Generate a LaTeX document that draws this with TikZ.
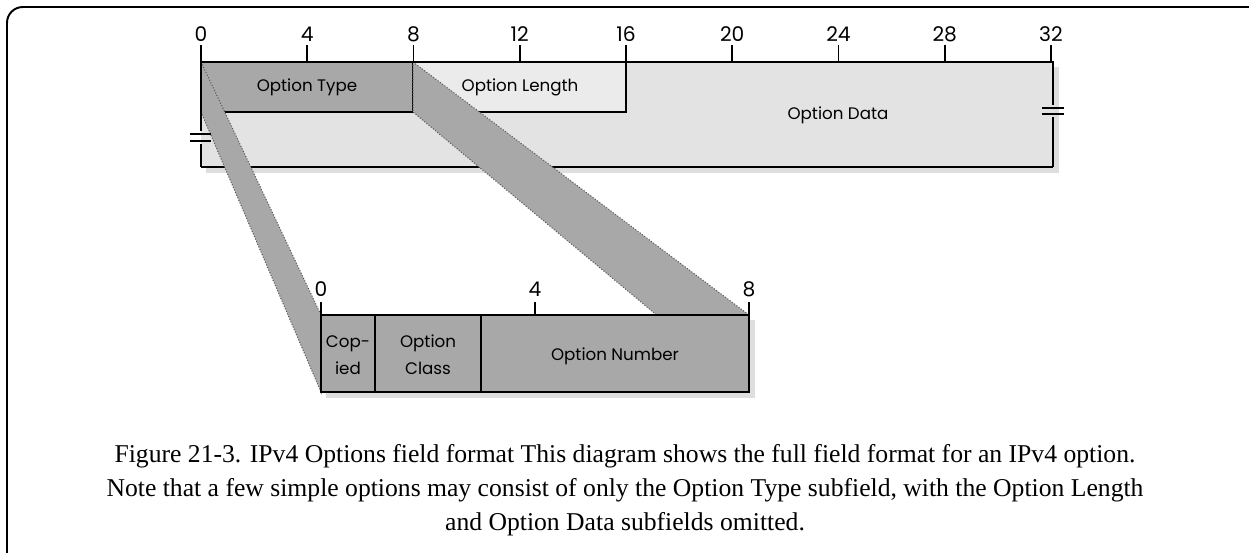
\documentclass[tikz,border=0pt]{standalone}
\usepackage{fontspec}
\setmainfont{Liberation Serif}
\newfontfamily\fieldfont{Poppins}
\usepackage{tikz}

\definecolor{bandgray}{gray}{0.66}
\definecolor{datagray}{gray}{0.89}
\definecolor{lengray}{gray}{0.92}
\definecolor{shadowgray}{gray}{0.87}

\begin{document}
\begin{tikzpicture}[x=0.02cm, y=-0.02cm,
    fieldtext/.style={font=\fieldfont\fontsize{9.5}{15.5}\selectfont, align=center, inner sep=0pt},
    bitno/.style={font=\fieldfont\fontsize{11.5}{13}\selectfont, inner sep=0pt},
    edge/.style={line width=1.1pt},
    thinedge/.style={line width=0.8pt},
    band/.style={fill=bandgray, draw=black!65, densely dotted, line width=0.6pt}]
  \useasboundingbox (0,0) rectangle (1249,552);
  % frame round the figure
  \draw[line width=1.1pt, rounded corners=9] (7,560) -- (7,7) -- (1252,7);
  % shadows
  \fill[shadowgray] (206,67) rectangle (1059,173);
  \fill[shadowgray] (326,320) rectangle (755,398);
  % the 32-bit options word
  \fill[datagray] (201,62) rectangle (1053,167);
  \fill[lengray] (413,62) rectangle (626,112);
  \fill[bandgray] (201,62) rectangle (413,112);
  \draw[thinedge] (413,62) -- (413,112) -- (201,112);
  \draw[thinedge] (626,62) -- (626,112) -- (413,112);
  \draw[edge] (201,167) -- (1053,167);
  % Option Type projected onto the byte below
  \draw[band] (201,62) -- (321,315) -- (321,392) -- (201,112) -- cycle;
  \draw[band] (413,62) -- (749,315) -- (749,392) -- (413,112) -- cycle;
  % outline, with the break marks on both sides
  \draw[edge] (201,131) -- (201,62) -- (1053,62) -- (1053,105);
  \draw[edge] (201,144) -- (201,167);
  \draw[edge] (1053,117) -- (1053,167);
  \draw[edge] (190,134) -- (211,134) (190,141) -- (211,141);
  \draw[edge] (1042,108) -- (1064,108) (1042,114) -- (1064,114);
  % bit numbers of the word
  \foreach \b in {0,4,...,32} {
    \draw[edge] ({201+26.5625*\b},45) -- ({201+26.5625*\b},62);
    \node[bitno] (top\b) at ({201+26.5625*\b},34) {\b};
  }
  \node[fieldtext] (otype) at (307,87) {Option Type};
  \node[fieldtext] (olength) at (520,87) {Option Length};
  \node[fieldtext] (odata) at (838,115) {Option Data};
  % the Option Type byte, split into its subfields
  \draw[edge, fill=bandgray] (321,315) rectangle (749,392);
  \draw[thinedge] (375,315) -- (375,392);
  \draw[thinedge] (481,315) -- (481,392);
  \foreach \b in {0,4,8} {
    \draw[edge] ({321+53.5*\b},302) -- ({321+53.5*\b},315);
    \node[bitno] (low\b) at ({321+53.5*\b},289) {\b};
  }
  \node[fieldtext] (copied) at (348,355) {Cop-\\ied};
  \node[fieldtext] (oclass) at (428,355) {Option\\Class};
  \node[fieldtext] (onumber) at (615,356) {Option Number};
  % caption
  \node[font=\fontsize{14.6}{19.4}\selectfont, align=center] (caption) at (625,490)
    {Figure 21-3. IPv4 Options field format This diagram shows the full field format for an IPv4 option.\\
     Note that a few simple options may consist of only the Option Type subfield, with the Option Length\\
     and Option Data subfields omitted.};
\end{tikzpicture}
\end{document}
